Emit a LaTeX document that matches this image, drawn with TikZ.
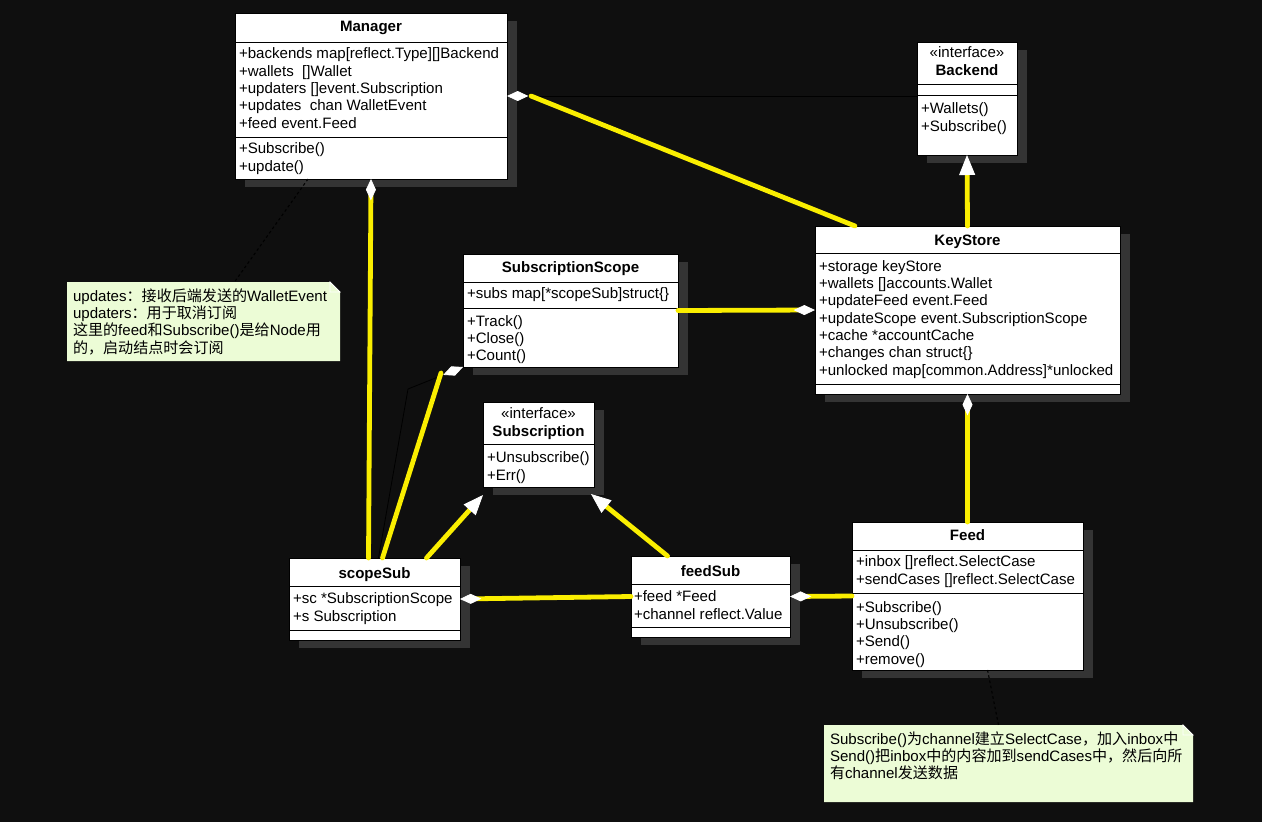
\documentclass[tikz,border=0pt]{standalone}
\usepackage{fontspec}
\setmainfont{Liberation Sans}
\newfontfamily\cjk{Noto Sans CJK SC}
\usepackage{tikz}
\usetikzlibrary{arrows.meta,calc,fit,shadows}
\definecolor{bg}{RGB}{15,15,15}
\definecolor{boxshade}{RGB}{52,52,52}
\definecolor{hilite}{RGB}{250,238,0}
\definecolor{notefill}{RGB}{236,252,214}

\begin{document}
\begin{tikzpicture}[x=0.75pt,y=-0.75pt,
    every node/.style={inner sep=0pt, outer sep=0pt, font=\fontsize{11.3}{13}\selectfont},
    classbox/.style={draw=black, fill=white, line width=0.6pt,
      drop shadow={shadow xshift=7.5pt, shadow yshift=-6pt, fill=boxshade, opacity=1}},
    title/.style={anchor=base, font=\fontsize{11.3}{13}\selectfont\bfseries},
    stereo/.style={anchor=base, align=center},
    members/.style={anchor=base west, align=left},
    divider/.style={line width=0.6pt},
    hiline/.style={draw=hilite, line width=3.6pt, line cap=round},
    assoc/.style={draw=black, line width=0.6pt},
    aggr/.style={arrows={Diamond[length=16pt,width=7.5pt,line width=0.6pt,color=white,fill=white]-}},
    gen/.style={arrows={-Triangle[length=15pt,width=12pt,line width=0.6pt,color=white,fill=white]}},
    notelink/.style={draw=black, line width=0.8pt, dash pattern=on 2pt off 2pt}]
  \useasboundingbox (0,0) rectangle (1262,822);
  \fill[bg] (0,0) rectangle (1262,822);

  % Manager (members nodes sit on the baseline of their last line)
  \node[classbox, fit={(235,13) (507,179)}] (manager) {};
  \draw[divider] (235,42) -- (507,42);
  \draw[divider] (235,137) -- (507,137);
  \node[title] at (371,31) {Manager};
  \node[members] at (239,128.3) {+backends map[reflect.Type][]Backend\\+wallets~ []Wallet\\+updaters []event.Subscription\\+updates~ chan WalletEvent\\+feed event.Feed};
  \node[members] at (239,171.3) {+Subscribe()\\+update()};

  % Backend
  \node[classbox, fit={(917,42) (1017,155)}] (backend) {};
  \draw[divider] (917,84) -- (1017,84);
  \draw[divider] (917,95) -- (1017,95);
  \node[stereo] at (967,75) {«interface»\\\textbf{Backend}};
  \node[members] at (921,131.3) {+Wallets()\\+Subscribe()};

  % KeyStore
  \node[classbox, fit={(815,226) (1120,394)}] (keystore) {};
  \draw[divider] (815,253) -- (1120,253);
  \draw[divider] (815,384) -- (1120,384);
  \node[title] at (967.5,245) {KeyStore};
  \node[members] at (819,375) {+storage keyStore\\+wallets []accounts.Wallet\\+updateFeed event.Feed\\+updateScope event.SubscriptionScope\\+cache *accountCache\\+changes chan struct\{\}\\+unlocked map[common.Address]*unlocked};

  % SubscriptionScope
  \node[classbox, fit={(463,254) (678,367)}] (scope) {};
  \draw[divider] (463,282) -- (678,282);
  \draw[divider] (463,308) -- (678,308);
  \node[title] at (570.5,272) {SubscriptionScope};
  \node[members] at (467,298) {+subs map[*scopeSub]struct\{\}};
  \node[members] at (467,360.7) {+Track()\\+Close()\\+Count()};

  % Subscription
  \node[classbox, fit={(483,402) (594,487)}] (subscr) {};
  \draw[divider] (483,444) -- (594,444);
  \node[stereo] at (538.5,436) {«interface»\\\textbf{Subscription}};
  \node[members] at (487,480.3) {+Unsubscribe()\\+Err()};

  % scopeSub
  \node[classbox, fit={(289,558) (460,640)}] (scopesub) {};
  \draw[divider] (289,586) -- (460,586);
  \draw[divider] (289,630) -- (460,630);
  \node[title] at (374.5,578) {scopeSub};
  \node[members] at (293,621.3) {+sc *SubscriptionScope\\+s Subscription};

  % feedSub
  \node[classbox, fit={(631,556) (790,637)}] (feedsub) {};
  \draw[divider] (631,584) -- (790,584);
  \draw[divider] (631,627) -- (790,627);
  \node[title] at (710.5,576) {feedSub};
  \node[members] at (634,619.3) {+feed *Feed\\+channel reflect.Value};

  % Feed
  \node[classbox, fit={(852,522) (1083,670)}] (feed) {};
  \draw[divider] (852,550) -- (1083,550);
  \draw[divider] (852,593) -- (1083,593);
  \node[title] at (967.5,540) {Feed};
  \node[members] at (856,584.3) {+inbox []reflect.SelectCase\\+sendCases []reflect.SelectCase};
  \node[members] at (856,664) {+Subscribe()\\+Unsubscribe()\\+Send()\\+remove()};

  % notes
  \node[fit={(67,282) (340,361)}] (mnote) {};
  \fill[notefill] (mnote.north west) -- ($(mnote.north east)+(-10,0)$) -- ($(mnote.north east)+(0,10)$) |- (mnote.south west) -- cycle;
  \draw[white, line width=0.6pt] ($(mnote.north east)+(-10,0)$) -- ++(0,10) -- ++(10,0) -- cycle;
  \node[members] at (73,353) {updates{\cjk ：接收后端发送的}WalletEvent\\updaters{\cjk ：用于取消订阅}\\{\cjk 这里的}feed{\cjk 和}Subscribe(){\cjk 是给}Node{\cjk 用}\\{\cjk 的，启动结点时会订阅}};

  \node[fit={(824,725) (1193,802)}] (fnote) {};
  \fill[notefill] (fnote.north west) -- ($(fnote.north east)+(-10,0)$) -- ($(fnote.north east)+(0,10)$) |- (fnote.south west) -- cycle;
  \draw[white, line width=0.6pt] ($(fnote.north east)+(-10,0)$) -- ++(0,10) -- ++(10,0) -- cycle;
  \node[members] at (830,778.7) {Subscribe(){\cjk 为}channel{\cjk 建立}SelectCase{\cjk ，加入}inbox{\cjk 中}\\Send(){\cjk 把}inbox{\cjk 中的内容加到}sendCases{\cjk 中，然后向所}\\{\cjk 有}channel{\cjk 发送数据}};

  % connectors
  \coordinate (mgrtip) at ($(manager.east)+(24,0)$);
  \draw[assoc, aggr] (manager.east) -- (backend.west |- manager.east);
  \draw[hiline] (mgrtip) -- ($(keystore.north west)+(40,0)$);
  \draw[hiline, gen] (keystore.north) -- (backend.south);
  \draw[hiline, aggr] (keystore.south) -- (feed.north);
  \draw[hiline, aggr] (keystore.west) -- (scope.east);
  \draw[hiline, aggr] (manager.south) -- ($(scopesub.north)+(-6,0)$);
  \draw[assoc, aggr] (scope.south west) -- (408,389) -- ($(scopesub.north)+(4,0)$);
  \draw[hiline] ($(scope.south west)+(-22,6)$) -- ($(scopesub.north)+(8,0)$);
  \draw[hiline, gen] ($(scopesub.north)+(52,0)$) -- ($(subscr.south west)+(0,8)$);
  \draw[hiline, gen] ($(feedsub.north)+(-43,0)$) -- ($(subscr.south east)+(-3,7)$);
  \draw[hiline, aggr] (scopesub.east) -- (feedsub.west);
  \draw[hiline, aggr] (feedsub.east) -- (feed.west);
  \draw[notelink] ($(manager.south west)+(73,0)$) -- ($(mnote.north)+(31,0)$);
  \draw[notelink] ($(feed.south)+(20,0)$) -- ($(fnote.north)+(-10,0)$);
\end{tikzpicture}
\end{document}
